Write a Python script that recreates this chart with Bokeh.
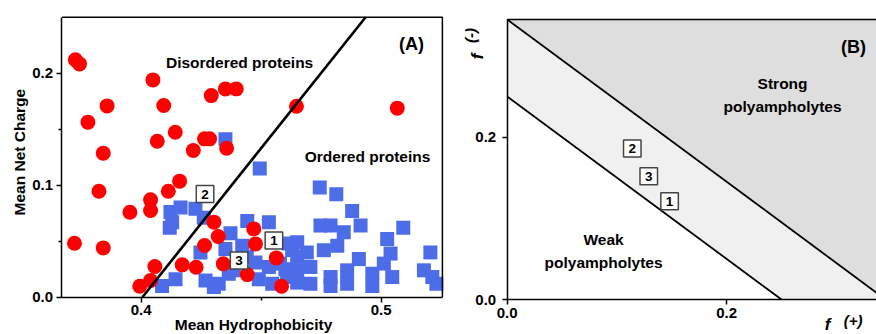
import math
from bokeh.plotting import figure
from bokeh.layouts import row
from bokeh.models import Label, FixedTicker, NumeralTickFormatter
from bokeh.embed import file_html
from bokeh.resources import INLINE

FONT = "Liberation Sans"

# ---------------- Panel A data ----------------
disordered_x = [0.3726, 0.3743, 0.4049, 0.3858, 0.3778, 0.4094, 0.4292, 0.4351, 0.4396, 0.4647,
                0.5067, 0.4142, 0.4067, 0.4264, 0.4285, 0.4217, 0.4356, 0.3842, 0.4160, 0.4113,
                0.3824, 0.4039, 0.4039, 0.3953, 0.3722, 0.3842, 0.4303, 0.4469, 0.4321, 0.4264,
                0.4476, 0.4563, 0.4057, 0.4171, 0.4229, 0.4342, 0.4442, 0.4585, 0.3994, 0.4039]
disordered_y = [0.2119, 0.2083, 0.1940, 0.1708, 0.1563, 0.1711, 0.1800, 0.1860, 0.1860, 0.1705,
                0.1688, 0.1473, 0.1393, 0.1414, 0.1414, 0.1310, 0.1330, 0.1286, 0.1036, 0.0946,
                0.0946, 0.0869, 0.0774, 0.0759, 0.0482, 0.0440, 0.0670, 0.0610, 0.0542, 0.0461,
                0.0476, 0.0351, 0.0274, 0.0289, 0.0268, 0.0298, 0.0202, 0.0098, 0.0098, 0.0149]

ordered_x = [0.4351, 0.4494, 0.4744, 0.4813, 0.4879, 0.4914, 0.5092, 0.5205,
             0.4122, 0.4164, 0.4129, 0.4119, 0.4226, 0.4261,
             0.4442, 0.4532, 0.4747, 0.4789, 0.4844, 0.5025,
             0.4372, 0.4247, 0.4351, 0.4421, 0.4615, 0.4629, 0.4650, 0.4761, 0.4817,
             0.4476, 0.4490, 0.4532, 0.4601, 0.4546,
             0.4143, 0.4087, 0.4268, 0.4323, 0.4365, 0.4386, 0.4303,
             0.4650, 0.4907, 0.5039, 0.5011, 0.4963, 0.4963, 0.5046, 0.5178, 0.5213, 0.5230,
             0.4705, 0.4789, 0.4789, 0.4858, 0.4858, 0.4705, 0.4650, 0.4650, 0.4608, 0.4578,
             0.4440, 0.4690]
ordered_y = [0.141, 0.115, 0.098, 0.092, 0.077, 0.064, 0.062, 0.040,
             0.076, 0.080, 0.067, 0.062, 0.079, 0.071,
             0.068, 0.067, 0.064, 0.064, 0.058, 0.052,
             0.057, 0.040, 0.043, 0.046, 0.048, 0.042, 0.049, 0.042, 0.046,
             0.031, 0.016, 0.027, 0.025, 0.012,
             0.016, 0.010, 0.015, 0.012, 0.021, 0.024, 0.009,
             0.036, 0.034, 0.039, 0.030, 0.021, 0.010, 0.018, 0.024, 0.018, 0.012,
             0.027, 0.018, 0.010, 0.024, 0.012, 0.012, 0.024, 0.013, 0.018, 0.030,
             0.036, 0.040]

boundary_a_x = [0.4005, 0.4935]
boundary_a_y = [0.0, 0.25]

labels_a = ["2", "1", "3"]
labels_a_x = [0.4266, 0.4553, 0.4408]
labels_a_y = [0.0921, 0.0506, 0.0328]

xticks_a = [0.4, 0.5]
xminor_a = [0.45]
yticks_a = [0.0, 0.1, 0.2]
yminor_a = [0.05, 0.15]

# axes box of panel A (data limits) and the visible window around it
box_a_x = (0.367, 0.5255)
box_a_y = (0.0, 0.25)
view_a_x = (0.34138, 0.53221)
view_a_y = (-0.0333, 0.26491)

# ---------------- Panel B data ----------------
weak_limit = 0.25
strong_limit = 0.345
labels_b = ["2", "3", "1"]
labels_b_x = [0.114, 0.129, 0.148]
labels_b_y = [0.186, 0.152, 0.121]
xticks_b = [0.0, 0.2]
yticks_b = [0.0, 0.2]
view_b_x = (-0.0444, 0.3366)
view_b_y = (-0.0431, 0.3684)


def style_axis(ax, size="15px"):
    ax.axis_line_width = 1.5
    ax.axis_line_color = "black"
    ax.major_tick_line_width = 1.5
    ax.minor_tick_line_width = 1.5
    ax.major_tick_in = 0
    ax.major_tick_out = 5
    ax.minor_tick_in = 0
    ax.minor_tick_out = 3
    ax.major_label_text_font = FONT
    ax.major_label_text_font_style = "bold"
    ax.major_label_text_font_size = size
    ax.major_label_text_color = "black"
    ax.formatter = NumeralTickFormatter(format="0.0")


def add_text(p, x, y, text, size="15.5px", align="center", baseline="middle", italic=False,
             angle=0.0):
    p.add_layout(Label(x=x, y=y, text=text, text_font=FONT,
                       text_font_style="bold italic" if italic else "bold",
                       text_font_size=size, text_align=align, text_baseline=baseline,
                       text_color="black", angle=angle))


def add_box(p, x, y, text):
    p.add_layout(Label(x=x, y=y, text=text, text_font=FONT, text_font_style="bold",
                       text_font_size="13.5px", text_align="center", text_baseline="middle",
                       text_color="black", border_line_color="#444444", border_line_width=1.5,
                       background_fill_color="white", padding=(5, 4)))


def bare_figure(width, xr, yr):
    p = figure(width=width, height=334, x_range=xr, y_range=yr,
               output_backend="svg", toolbar_location=None,
               min_border_left=0, min_border_right=0, min_border_top=0, min_border_bottom=0)
    p.grid.visible = False
    p.outline_line_color = None
    p.background_fill_color = "white"
    p.border_fill_color = "white"
    return p


# ---------------- Panel A ----------------
p1 = bare_figure(458, view_a_x, view_a_y)
style_axis(p1.xaxis[0])
style_axis(p1.yaxis[0])
p1.xaxis[0].ticker = FixedTicker(ticks=xticks_a, minor_ticks=xminor_a)
p1.yaxis[0].ticker = FixedTicker(ticks=yticks_a, minor_ticks=yminor_a)
p1.xaxis[0].fixed_location = box_a_y[0]
p1.yaxis[0].fixed_location = box_a_x[0]
p1.xaxis[0].bounds = box_a_x
p1.yaxis[0].bounds = box_a_y
p1.xaxis[0].major_label_standoff = 3
p1.yaxis[0].major_label_standoff = 4

p1.scatter(ordered_x, ordered_y, marker="square", size=14, fill_color="#4d6de8", line_color=None)
p1.scatter(disordered_x, disordered_y, marker="circle", size=15, fill_color="#ff0000", line_color=None)
p1.line(boundary_a_x, boundary_a_y, line_color="black", line_width=2.6)
# top and right sides of the axes box
p1.line([box_a_x[0], box_a_x[1], box_a_x[1]], [box_a_y[1], box_a_y[1], box_a_y[0]],
        line_color="black", line_width=1.5)

add_text(p1, 0.441, 0.2096, "Disordered proteins")
add_text(p1, 0.4943, 0.1256, "Ordered proteins")
add_text(p1, 0.5126, 0.2265, "(A)", size="18px")
for t, x, y in zip(labels_a, labels_a_x, labels_a_y):
    add_box(p1, x, y, t)

add_text(p1, 0.4468, -0.0240, "Mean Hydrophobicity")
add_text(p1, 0.3493, 0.1295, "Mean Net Charge", angle=math.pi / 2)

# ---------------- Panel B ----------------
p2 = bare_figure(418, view_b_x, view_b_y)
style_axis(p2.xaxis[0])
style_axis(p2.yaxis[0])
p2.xaxis[0].ticker = FixedTicker(ticks=xticks_b, minor_ticks=[])
p2.yaxis[0].ticker = FixedTicker(ticks=yticks_b, minor_ticks=[])
p2.xaxis[0].major_label_standoff = 3
p2.yaxis[0].major_label_standoff = 6
p2.xaxis[0].fixed_location = 0.0
p2.yaxis[0].fixed_location = 0.0
p2.xaxis[0].bounds = (0.0, view_b_x[1])
p2.yaxis[0].bounds = (0.0, strong_limit)

# strong region (dark)
p2.patch([0.0, strong_limit, view_b_x[1], view_b_x[1], 0.0],
         [strong_limit, 0.0, 0.0, strong_limit, strong_limit],
         fill_color="#dedede", line_color=None)
# intermediate band (light)
p2.patch([0.0, weak_limit, strong_limit, 0.0], [weak_limit, 0.0, 0.0, strong_limit],
         fill_color="#f0f0f0", line_color=None)
p2.line([0.0, weak_limit], [weak_limit, 0.0], line_color="black", line_width=1.8)
p2.line([0.0, strong_limit], [strong_limit, 0.0], line_color="black", line_width=1.8)
# top side of the axes box
p2.line([0.0, view_b_x[1]], [strong_limit, strong_limit], line_color="black", line_width=1.5)

add_text(p2, 0.3157, 0.3105, "(B)", size="18px")
add_text(p2, 0.251, 0.266, "Strong")
add_text(p2, 0.251, 0.2378, "polyampholytes")
add_text(p2, 0.0878, 0.0739, "Weak")
add_text(p2, 0.0878, 0.0456, "polyampholytes")
for t, x, y in zip(labels_b, labels_b_x, labels_b_y):
    add_box(p2, x, y, t)

# axis titles f(-) and f(+)
add_text(p2, -0.0270, 0.2994, "f", size="17px", italic=True, angle=math.pi / 2)
add_text(p2, -0.0338, 0.3253, "(-)", size="15px", italic=True, angle=math.pi / 2)
add_text(p2, 0.2920, -0.0308, "f", size="17px", italic=True)
add_text(p2, 0.3152, -0.0254, "(+)", size="15px", italic=True)

layout = row(p1, p2)
open("out.html", "w").write(file_html(layout, INLINE))
